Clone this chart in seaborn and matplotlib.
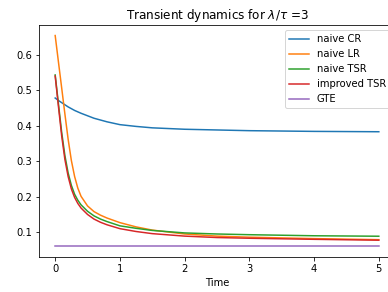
import matplotlib
matplotlib.use("Agg")
import matplotlib.pyplot as plt
import seaborn as sns
import pandas as pd

times = [0, 0.05, 0.1, 0.15, 0.2, 0.25, 0.3, 0.35, 0.4, 0.5, 0.6, 0.7, 0.8,
         1.0, 1.25, 1.5, 2.0, 2.5, 3.0, 4.0, 5.0]

naive_cr = [0.478, 0.471, 0.465, 0.459, 0.453, 0.448, 0.443, 0.439, 0.435,
            0.428, 0.421, 0.416, 0.411, 0.403, 0.398, 0.394, 0.390, 0.388,
            0.386, 0.384, 0.383]
naive_lr = [0.654, 0.580, 0.507, 0.433, 0.362, 0.302, 0.257, 0.224, 0.201,
            0.174, 0.158, 0.148, 0.140, 0.127, 0.115, 0.106, 0.095, 0.089,
            0.086, 0.082, 0.079]
naive_tsr = [0.543, 0.462, 0.382, 0.316, 0.267, 0.232, 0.207, 0.190, 0.177,
             0.159, 0.146, 0.137, 0.130, 0.118, 0.111, 0.105, 0.098, 0.095,
             0.093, 0.090, 0.0887]
improved_tsr = [0.540, 0.455, 0.372, 0.305, 0.257, 0.222, 0.198, 0.181,
                0.168, 0.150, 0.137, 0.128, 0.121, 0.110, 0.102, 0.096,
                0.089, 0.085, 0.083, 0.080, 0.0775]
gte = [0.0607, 0.0607, 0.0607, 0.0607, 0.0607, 0.0607, 0.0607, 0.0607,
       0.0607, 0.0607, 0.0607, 0.0607, 0.0607, 0.0607, 0.0607, 0.0607,
       0.0607, 0.0607, 0.0607, 0.0607, 0.0607]

labels = ["naive CR", "naive LR", "naive TSR", "improved TSR", "GTE"]
series = [naive_cr, naive_lr, naive_tsr, improved_tsr, gte]

rows = []
for lab, vals in zip(labels, series):
    for t, v in zip(times, vals):
        rows.append({"Time": t, "value": v, "method": lab})
df = pd.DataFrame(rows)

plt.rcParams["font.family"] = ["DejaVu Sans"]
plt.rcParams["font.size"] = 10

fig = plt.figure(figsize=(388 / 72, 292 / 72), dpi=72)
ax = fig.add_axes([39 / 388, 1 - 256.7 / 292, (395 - 39) / 388, (256.7 - 25) / 292])

palette = ["#1f77b4", "#ff7f0e", "#2ca02c", "#d62728", "#9467bd"]
sns.lineplot(data=df, x="Time", y="value", hue="method", hue_order=labels,
             palette=palette, estimator=None, linewidth=1.5, ax=ax)

ax.set_xticks([0, 1, 2, 3, 4, 5])
ax.set_yticks([0.1, 0.2, 0.3, 0.4, 0.5, 0.6])
ax.set_ylabel("")
ax.set_xlabel("Time")
ax.set_title(r"Transient dynamics for $\lambda/\tau$ =3", fontsize=12)
ax.legend(loc="upper right", fontsize=10)

fig.savefig("out.png", dpi=72)
